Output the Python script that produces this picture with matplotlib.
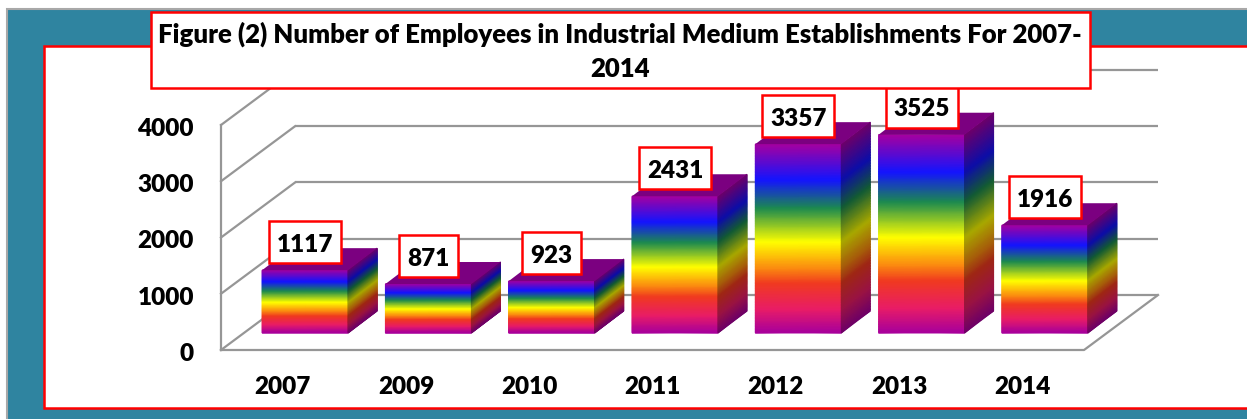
import numpy as np
import matplotlib
matplotlib.use("Agg")
import matplotlib.pyplot as plt
from matplotlib.colors import LinearSegmentedColormap
from matplotlib.patches import Polygon, Rectangle

# ── Data ──────────────────────────────────────────────────────────────────────

years = ["2007", "2009", "2010", "2011", "2012", "2013", "2014"]
employees = [1117, 871, 923, 2431, 3357, 3525, 1916]
y_ticks = [0, 1000, 2000, 3000, 4000]
title = "Figure (2) Number of Employees in Industrial Medium Establishments For 2007-\n2014"

# ── Style ─────────────────────────────────────────────────────────────────────

W, H = 1247, 419
TEAL = "#2F84A0"
RED = "#FF0000"
GRID = "#969696"
FONT = "Lato"
WEIGHT = "heavy"
LABEL_SIZE = 17.5
RED_LW = 1.8
GRID_LW = 1.6

# pixels per unit on the chart axes
PX_X = 123.29
PX_Y = 0.05625
X0_PX, Y0_PX = 221, 350

# oblique projection, all in data units
WALL_DX, WALL_DY = 74 / PX_X, 55 / PX_Y
BAR_SHIFT_X, BAR_SHIFT_Y = 22.5 / PX_X, 17 / PX_Y
BAR_WIDTH = 86 / PX_X
BAR_DX, BAR_DY = 29 / PX_X, 22 / PX_Y

stops = [(0.00, "#A600A0"), (0.19, "#1414FF"), (0.34, "#1C8A50"),
         (0.52, "#FFFF00"), (0.66, "#FB8A10"), (0.74, "#F03A20"),
         (0.88, "#E81C68"), (1.00, "#A8009C")]
rainbow = LinearSegmentedColormap.from_list("rainbow_front", stops)
dark_stops = [(p, tuple(0.66 * c for c in matplotlib.colors.to_rgb(col)))
              for p, col in stops]
rainbow_dark = LinearSegmentedColormap.from_list("rainbow_side", dark_stops)

fig = plt.figure(figsize=(W / 100, H / 100), dpi=100, facecolor="white")

# ── Frame behind the chart (pixel coordinates) ────────────────────────────────

bg = fig.add_axes([0, 0, 1, 1], zorder=0)
bg.set_xlim(0, W)
bg.set_ylim(H, 0)
bg.axis("off")
bg.add_patch(Rectangle((7, 9.5), W, H, fc=TEAL, ec="#A8A8A8", lw=1.5))
bg.add_patch(Rectangle((44, 46), W, 362, fc="white", ec=RED, lw=RED_LW))

# ── Chart ─────────────────────────────────────────────────────────────────────

ax = fig.add_axes([0, 0, 1, 1], zorder=1)
ax.patch.set_alpha(0)
ax.axis("off")
n = len(years)

# back wall gridlines, left wall slants, floor
for v in y_ticks:
    ax.plot([WALL_DX, n + WALL_DX], [v + WALL_DY, v + WALL_DY],
            color=GRID, lw=GRID_LW, zorder=1, solid_capstyle="butt")
    ax.plot([0, WALL_DX], [v, v + WALL_DY], color=GRID, lw=GRID_LW, zorder=1)
ax.plot([0, 0], [y_ticks[0], y_ticks[-1]], color=GRID, lw=GRID_LW, zorder=1)
ax.plot([0, n, n + WALL_DX], [0, 0, WALL_DY], color=GRID, lw=GRID_LW, zorder=1)

t = np.linspace(0, 1, 120)
for i, (year, val) in enumerate(zip(years, employees)):
    x_l = i + 0.5 + BAR_SHIFT_X - BAR_WIDTH / 2
    x_r = x_l + BAR_WIDTH
    base = BAR_SHIFT_Y
    top = base + val

    # front face
    rows = top - t * val
    ax.pcolormesh(np.tile([x_l, x_r], (t.size, 1)), np.column_stack([rows, rows]),
                  np.column_stack([t, t]), cmap=rainbow, vmin=0, vmax=1,
                  shading="gouraud", zorder=3)
    # side face, skewed by the depth offset
    ax.pcolormesh(np.tile([x_r, x_r + BAR_DX], (t.size, 1)),
                  np.column_stack([rows, rows + BAR_DY]),
                  np.column_stack([t, t]), cmap=rainbow_dark, vmin=0, vmax=1,
                  shading="gouraud", zorder=3)
    # top face
    ax.add_patch(Polygon([(x_l, top), (x_r, top), (x_r + BAR_DX, top + BAR_DY),
                          (x_l + BAR_DX, top + BAR_DY)],
                         fc="#7B0080", ec="none", zorder=3))
    # value label in a fixed-size box
    cx, cy = (x_l + x_r) / 2, top + 28 / PX_Y
    box_w = (72 if val >= 1000 else 59) / PX_X
    box_h = 42 / PX_Y
    ax.add_patch(Rectangle((cx - box_w / 2, cy - box_h / 2), box_w, box_h,
                           fc="white", ec=RED, lw=RED_LW, zorder=5))
    ax.text(cx, cy - 2.5 / PX_Y, str(val), ha="center", va="center",
            fontsize=LABEL_SIZE, fontweight=WEIGHT, family=FONT, color="black",
            zorder=6)
    # category label
    ax.text(i + 0.5, -37 / PX_Y, year, ha="center", va="center",
            fontsize=LABEL_SIZE, fontweight=WEIGHT, family=FONT, color="black")

for v in y_ticks:
    ax.text(-27 / PX_X, v - 4 / PX_Y, str(v), ha="right", va="center",
            fontsize=LABEL_SIZE, fontweight=WEIGHT, family=FONT, color="black")

ax.set_xlim(-X0_PX / PX_X, (W - X0_PX) / PX_X)
ax.set_ylim(-(H - Y0_PX) / PX_Y, Y0_PX / PX_Y)

# ── Title box (pixel coordinates, above everything) ───────────────────────────

top_ax = fig.add_axes([0, 0, 1, 1], zorder=2)
top_ax.patch.set_alpha(0)
top_ax.set_xlim(0, W)
top_ax.set_ylim(H, 0)
top_ax.axis("off")
top_ax.add_patch(Rectangle((150.5, 12), 939, 76, fc="white", ec=RED, lw=RED_LW))
top_ax.text(620, 51, title, ha="center", va="center", fontsize=18.5,
            fontweight=WEIGHT, family=FONT, color="black", linespacing=1.5,
            multialignment="center")

fig.savefig("out.png", dpi=100)
